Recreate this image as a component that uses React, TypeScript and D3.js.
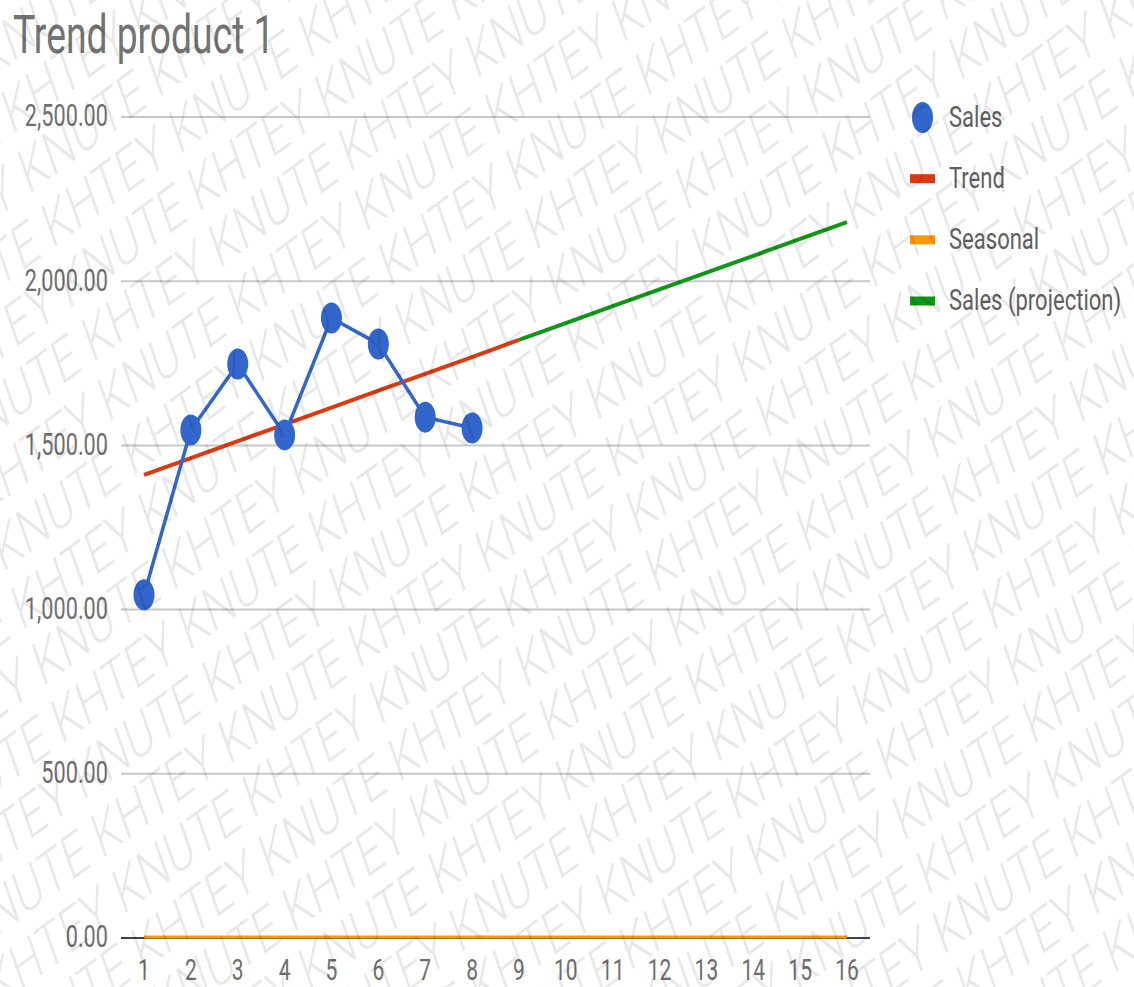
import React from "react";
import * as d3 from "d3";

// Period index on the horizontal axis
const periods = [1, 2, 3, 4, 5, 6, 7, 8, 9, 10, 11, 12, 13, 14, 15, 16];
// Observed sales, periods 1–8
const salesPeriods = [1, 2, 3, 4, 5, 6, 7, 8];
const salesValues = [1045, 1547, 1748, 1532, 1888, 1809, 1586, 1553];
// Fitted linear trend, periods 1–9
const trendPeriods = [1, 2, 3, 4, 5, 6, 7, 8, 9];
const trendValues = [1410, 1461, 1513, 1564, 1615, 1667, 1718, 1769, 1821];
// Seasonal component (flat at zero), periods 1–16
const seasonalValues = [0, 0, 0, 0, 0, 0, 0, 0, 0, 0, 0, 0, 0, 0, 0, 0];
// Projected sales, periods 9–16
const projectionPeriods = [9, 10, 11, 12, 13, 14, 15, 16];
const projectionValues = [1821, 1872, 1924, 1975, 2026, 2077, 2129, 2180];
// Vertical axis ticks
const yTicks = [0, 500, 1000, 1500, 2000, 2500];
const legendItems = [
  { label: "Sales", color: "#3366cc", kind: "dot" },
  { label: "Trend", color: "#dc3912", kind: "bar" },
  { label: "Seasonal", color: "#ff9900", kind: "bar" },
  { label: "Sales (projection)", color: "#109618", kind: "bar" },
];

const W = 1134;
const H = 987;
const FONT = "Roboto, 'Noto Sans', sans-serif";
const TEXT = "#6f6f6f";
const SX = 0.7; // horizontal squeeze applied to all text

const x = d3.scaleLinear().domain([1, 16]).range([144, 847]);
const y = d3.scaleLinear().domain([0, 2500]).range([938, 117]);

type Pt = [number, number];
const line = d3
  .line<Pt>()
  .x((d) => x(d[0]))
  .y((d) => y(d[1]));

function Label(props: {
  x: number;
  y: number;
  size: number;
  anchor?: string;
  fill?: string;
  sx?: number;
  children: React.ReactNode;
}) {
  const { x: px, y: py, size, anchor = "start", fill = TEXT, sx = SX } = props;
  return (
    <text
      transform={`translate(${px},${py}) scale(${sx},1)`}
      fontFamily={FONT}
      fontSize={size}
      textAnchor={anchor}
      dominantBaseline="central"
      fill={fill}
    >
      {props.children}
    </text>
  );
}

// Diagonal "KHTEY KNUTE" watermark tiled across the page
function Watermark() {
  const phrase = "KHTEY KNUTE ";
  const row = phrase.repeat(11);
  const rows = d3.range(-12, 28);
  return (
    <g transform="scale(0.69,1)" pointerEvents="none">
      <g transform="rotate(-27)">
        {rows.map((r, i) => (
          <text
            key={r}
            x={-1300 + (i % 2) * 205}
            y={r * 64}
            fontFamily={FONT}
            fontWeight={300}
            fontSize={62}
            fill="#000"
            fillOpacity={0.09}
          >
            {row}
          </text>
        ))}
      </g>
    </g>
  );
}

export default function App() {
  const salesPts: Pt[] = salesPeriods.map((p, i) => [p, salesValues[i]]);
  const trendPts: Pt[] = trendPeriods.map((p, i) => [p, trendValues[i]]);
  const seasonalPts: Pt[] = periods.map((p, i) => [p, seasonalValues[i]]);
  const projPts: Pt[] = projectionPeriods.map((p, i) => [p, projectionValues[i]]);
  const legendY = d3.scaleLinear().domain([0, 3]).range([117.5, 301]);

  return (
    <svg
      width={W}
      height={H}
      viewBox={`0 0 ${W} ${H}`}
      style={{ position: "absolute", left: 0, top: 0, background: "#fff" }}
    >
      <rect width={W} height={H} fill="#fff" />

      <Label x={13} y={34} size={54} sx={0.69} fill="#737373">
        Trend product 1
      </Label>

      {/* gridlines and value labels */}
      {yTicks.map((t) => (
        <g key={t}>
          <line
            x1={121}
            x2={870}
            y1={y(t)}
            y2={y(t)}
            stroke={t === 0 ? "#444" : "#c8c8c8"}
            strokeWidth={2}
          />
          <Label x={108} y={y(t) - 1} size={31} anchor="end">
            {d3.format(",.2f")(t)}
          </Label>
        </g>
      ))}

      {/* period labels */}
      {periods.map((p) => (
        <Label key={p} x={x(p)} y={970} size={30} anchor="middle">
          {p}
        </Label>
      ))}

      <path d={line(seasonalPts) ?? ""} fill="none" stroke="#ff9900" strokeWidth={3} transform="translate(0,-1)" />
      <path d={line(trendPts) ?? ""} fill="none" stroke="#dc3912" strokeWidth={4} />
      <path d={line(projPts) ?? ""} fill="none" stroke="#109618" strokeWidth={4} />
      <path d={line(salesPts) ?? ""} fill="none" stroke="#3366cc" strokeWidth={3.5} />
      {salesPts.map((d, i) => (
        <ellipse key={i} cx={x(d[0])} cy={y(d[1])} rx={10.5} ry={15.5} fill="#3366cc" />
      ))}

      {/* legend */}
      {legendItems.map((item, i) => {
        const cy = legendY(i);
        return (
          <g key={item.label}>
            {item.kind === "dot" ? (
              <ellipse cx={922.5} cy={cy} rx={10.5} ry={15.5} fill={item.color} />
            ) : (
              <rect x={910} y={cy - 4.5} width={25} height={9} fill={item.color} />
            )}
            <Label x={949} y={cy - 1} size={29} sx={0.76} fill="#606060">
              {item.label}
            </Label>
          </g>
        );
      })}

      <Watermark />
    </svg>
  );
}
